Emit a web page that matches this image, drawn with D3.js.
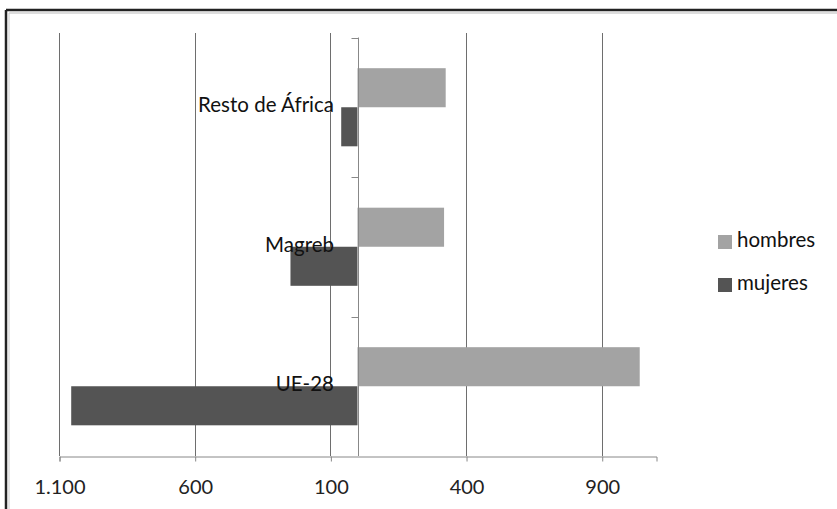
<!DOCTYPE html>
<html>
<head>
<meta charset="utf-8">
<script src="https://cdn.jsdelivr.net/npm/d3@7"></script>
<style>
  body { margin: 0; background: #fff; }
  svg { display: block; font-family: Lato, "Open Sans", sans-serif; }
</style>
</head>
<body>
<div id="chart"></div>
<script>
// Data
const categories = ['Resto de África', 'Magreb', 'UE-28']
const series = ['hombres', 'mujeres']
const hombres = [325, 319, 1040]
const mujeres = [60, 247, 1055]
const tickValues = [-1100, -600, -100, 400, 900]

const colors = { hombres: '#a3a3a3', mujeres: '#545454' }

const width = 837
const height = 509

const svg = d3.select('#chart')
  .append('svg')
  .attr('width', width)
  .attr('height', height)

// frame
svg.append('line')
  .attr('x1', 6).attr('x2', width).attr('y1', 10).attr('y2', 10)
  .attr('stroke', '#222').attr('stroke-width', 2.5)
svg.append('line')
  .attr('x1', 6).attr('x2', 6).attr('y1', 10).attr('y2', height)
  .attr('stroke', '#222').attr('stroke-width', 2.5)
svg.append('line')
  .attr('x1', 9).attr('x2', width).attr('y1', 13).attr('y2', 13)
  .attr('stroke', '#bbb').attr('stroke-width', 1)
svg.append('line')
  .attr('x1', 9).attr('x2', 9).attr('y1', 13).attr('y2', height)
  .attr('stroke', '#ccc').attr('stroke-width', 1)

// Scales
const xScale = d3.scaleLinear()
  .domain([-1100, 1100])
  .range([59, 656])

const yScale = d3.scaleBand()
  .domain(categories)
  .range([37.5, 456])
  .paddingInner(0.44)
  .paddingOuter(0.22)

const subScale = d3.scaleBand()
  .domain(series)
  .range([0, yScale.bandwidth()])

const locale = d3.formatLocale({ decimal: ',', thousands: '.', grouping: [3], currency: ['', ' €'] })
const fmt = locale.format(',')

// gridlines
svg.append('g')
  .selectAll('line')
  .data(tickValues)
  .join('line')
  .attr('x1', d => Math.round(xScale(d)) + 0.5)
  .attr('x2', d => Math.round(xScale(d)) + 0.5)
  .attr('y1', 33)
  .attr('y2', 456)
  .attr('stroke', '#6e6e6e')

// x axis
const xAxis = d3.axisBottom(xScale)
  .tickValues(tickValues)
  .tickSize(5)
  .tickPadding(18)
  .tickFormat(d => fmt(Math.abs(d)))

const xAxisGroup = svg.append('g')
  .attr('transform', 'translate(0.5, 456.5)')
  .call(xAxis)
xAxisGroup.select('.domain').attr('stroke', '#888')
xAxisGroup.selectAll('.tick line').attr('stroke', '#888')
xAxisGroup.selectAll('text')
  .attr('font-size', 20)
  .attr('fill', '#222')
  .style('font-family', 'Lato, sans-serif')

// bars
const rows = categories.map((c, i) => ({ category: c, hombres: hombres[i], mujeres: mujeres[i] }))

const groups = svg.append('g')
  .selectAll('g')
  .data(rows)
  .join('g')
  .attr('transform', d => `translate(0, ${yScale(d.category)})`)

groups.selectAll('rect')
  .data(d => series.map(s => ({ key: s, value: d[s] })))
  .join('rect')
  .attr('x', d => d.key === 'hombres' ? xScale(0) : xScale(-d.value))
  .attr('width', d => d.key === 'hombres' ? xScale(d.value) - xScale(0) : xScale(0) - xScale(-d.value))
  .attr('y', d => subScale(d.key))
  .attr('height', subScale.bandwidth())
  .attr('fill', d => colors[d.key])

// zero axis
const zeroX = Math.round(xScale(0)) + 0.5
svg.append('line')
  .attr('x1', zeroX).attr('x2', zeroX)
  .attr('y1', 37.5).attr('y2', 456)
  .attr('stroke', '#888')

// category boundary ticks
const bounds = [0, 1, 2].map(i => yScale.range()[0] + i * yScale.step())
svg.append('g')
  .selectAll('line')
  .data(bounds)
  .join('line')
  .attr('x1', zeroX - 7)
  .attr('x2', zeroX)
  .attr('y1', d => Math.round(d) + 0.5)
  .attr('y2', d => Math.round(d) + 0.5)
  .attr('stroke', '#888')

// category labels
svg.append('g')
  .selectAll('text')
  .data(categories)
  .join('text')
  .attr('x', 334)
  .attr('y', d => yScale(d) + yScale.bandwidth() / 2)
  .attr('text-anchor', 'end')
  .attr('dominant-baseline', 'middle')
  .attr('font-size', 20.5)
  .attr('fill', '#111')
  .text(d => d)

// legend
const legend = svg.append('g')
  .attr('transform', 'translate(718, 235)')

const items = legend.selectAll('g')
  .data(series)
  .join('g')
  .attr('transform', (d, i) => `translate(0, ${i * 43})`)

items.append('rect')
  .attr('width', 14)
  .attr('height', 14)
  .attr('fill', d => colors[d])

items.append('text')
  .attr('x', 19)
  .attr('y', 7)
  .attr('dominant-baseline', 'middle')
  .attr('font-size', 20.5)
  .attr('fill', '#111')
  .text(d => d)
</script>
</body>
</html>
